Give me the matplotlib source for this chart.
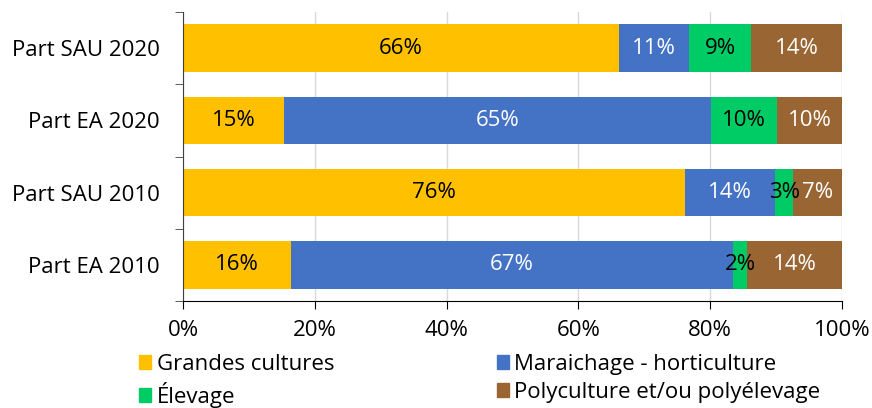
import numpy as np
import matplotlib
matplotlib.use("Agg")
import matplotlib.pyplot as plt
from matplotlib.patches import Patch

plt.rcParams["font.family"] = ["Open Sans", "DejaVu Sans"]

categories = ["Part SAU 2020", "Part EA 2020", "Part SAU 2010", "Part EA 2010"]
series = ["Grandes cultures", "Maraichage - horticulture", "Élevage",
          "Polyculture et/ou polyélevage"]
grandes = [66.2, 15.3, 76.2, 16.4]
maraichage = [10.6, 64.8, 13.7, 67.1]
elevage = [9.4, 10.0, 2.7, 2.1]
polyculture = [13.8, 9.9, 7.4, 14.4]
colors = ["#FFC000", "#4472C4", "#00CC66", "#996633"]
label_colors = ["black", "white", "black", "white"]
xticks = [0, 20, 40, 60, 80, 100]
FS = 16

fig = plt.figure(figsize=(8.72, 4.08), dpi=100)
ax = fig.add_axes([183 / 872, 1 - 301 / 408, 659 / 872, 289 / 408])

y = np.arange(len(categories))[::-1]
left = np.zeros(len(categories))
for vals, col, lcol in zip([grandes, maraichage, elevage, polyculture],
                           colors, label_colors):
    vals = np.array(vals)
    ax.barh(y, vals, left=left, height=0.66, color=col, zorder=2)
    for yi, l, v in zip(y, left, vals):
        ax.text(l + v / 2, yi, f"{v:.0f}%", ha="center", va="center",
                color=lcol, fontsize=FS, zorder=3)
    left += vals

ax.set_xlim(0, 100)
ax.set_ylim(-0.5, len(categories) - 0.5)
ax.set_xticks(xticks)
ax.set_xticklabels([f"{t}%" for t in xticks], fontsize=FS)
ax.set_yticks(y)
ax.set_yticklabels(categories, fontsize=FS)
ax.set_yticks(np.arange(-0.5, len(categories), 1), minor=True)
ax.tick_params(axis="y", which="major", length=0, pad=16.5)
ax.tick_params(axis="y", which="minor", length=6, color="#404040")
ax.tick_params(axis="x", length=6, color="black", pad=8)
ax.grid(axis="x", color="#d9d9d9", linewidth=1, zorder=0)
for s in ["top", "right"]:
    ax.spines[s].set_visible(False)
ax.spines["left"].set_color("#404040")
ax.spines["bottom"].set_color("black")

handles = [Patch(color=c) for c in colors]
order = [0, 2, 1, 3]
fig.legend([handles[i] for i in order], [series[i] for i in order],
           loc="upper left", bbox_to_anchor=(139 / 872, 1 - 354 / 408),
           ncol=2, frameon=False, fontsize=FS, handlelength=0.55,
           handleheight=0.55, handletextpad=0.25, columnspacing=7.3,
           labelspacing=0.3, borderaxespad=0, borderpad=0)

fig.savefig("out.png", dpi=100)
